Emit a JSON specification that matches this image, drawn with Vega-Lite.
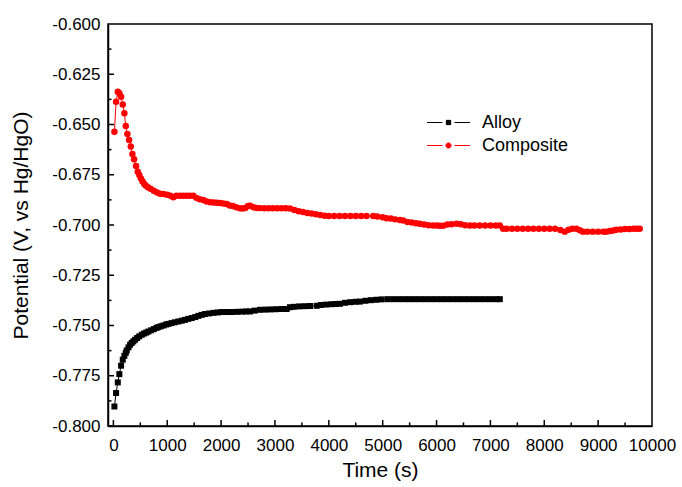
{
  "$schema": "https://vega.github.io/schema/vega-lite/v6.json",
  "width": 544,
  "height": 402,
  "autosize": "none",
  "padding": {"left": 108, "top": 24, "right": 30, "bottom": 61},
  "background": "white",
  "config": {
    "view": {"stroke": "black", "strokeWidth": 1.5},
    "font": "Liberation Sans",
    "axis": {"labelFont": "Liberation Sans", "titleFont": "Liberation Sans", "labelColor": "black", "titleColor": "black", "domainColor": "black", "grid": false, "domainWidth": 1.5, "titleFontWeight": "normal", "labelOverlap": false, "labelFlush": false}
  },
  "datasets": {
    "xt": [{"t":0,"k":"M"},{"t":500,"k":"m"},{"t":1000,"k":"M"},{"t":1500,"k":"m"},{"t":2000,"k":"M"},{"t":2500,"k":"m"},{"t":3000,"k":"M"},{"t":3500,"k":"m"},{"t":4000,"k":"M"},{"t":4500,"k":"m"},{"t":5000,"k":"M"},{"t":5500,"k":"m"},{"t":6000,"k":"M"},{"t":6500,"k":"m"},{"t":7000,"k":"M"},{"t":7500,"k":"m"},{"t":8000,"k":"M"},{"t":8500,"k":"m"},{"t":9000,"k":"M"},{"t":9500,"k":"m"}],
    "yt": [{"v":-0.8,"k":"M"},{"v":-0.7875,"k":"m"},{"v":-0.775,"k":"M"},{"v":-0.7625,"k":"m"},{"v":-0.75,"k":"M"},{"v":-0.7375,"k":"m"},{"v":-0.725,"k":"M"},{"v":-0.7125,"k":"m"},{"v":-0.7,"k":"M"},{"v":-0.6875,"k":"m"},{"v":-0.675,"k":"M"},{"v":-0.6625,"k":"m"},{"v":-0.65,"k":"M"},{"v":-0.6375,"k":"m"},{"v":-0.625,"k":"M"},{"v":-0.6125,"k":"m"}],
    "pts": [
    {"s":"Composite","t":19,"v":-0.6536},{"s":"Composite","t":50,"v":-0.6387},{"s":"Composite","t":82,"v":-0.6337},{"s":"Composite","t":111,"v":-0.6345},{"s":"Composite","t":143,"v":-0.6362},{"s":"Composite","t":174,"v":-0.6400},{"s":"Composite","t":204,"v":-0.6444},{"s":"Composite","t":230,"v":-0.6507},{"s":"Composite","t":260,"v":-0.6547},{"s":"Composite","t":291,"v":-0.6577},{"s":"Composite","t":323,"v":-0.6610},{"s":"Composite","t":353,"v":-0.6647},{"s":"Composite","t":384,"v":-0.6673},{"s":"Composite","t":421,"v":-0.6707},{"s":"Composite","t":453,"v":-0.6735},{"s":"Composite","t":482,"v":-0.6751},{"s":"Composite","t":510,"v":-0.6768},{"s":"Composite","t":540,"v":-0.6782},{"s":"Composite","t":570,"v":-0.6795},{"s":"Composite","t":600,"v":-0.6803},{"s":"Composite","t":640,"v":-0.6812},{"s":"Composite","t":690,"v":-0.6820},{"s":"Composite","t":750,"v":-0.6830},{"s":"Composite","t":810,"v":-0.6838},{"s":"Composite","t":870,"v":-0.6844},{"s":"Composite","t":930,"v":-0.6846},{"s":"Composite","t":1000,"v":-0.6850},{"s":"Composite","t":1060,"v":-0.6855},{"s":"Composite","t":1113,"v":-0.6862},{"s":"Composite","t":1170,"v":-0.6855},{"s":"Composite","t":1240,"v":-0.6854},{"s":"Composite","t":1300,"v":-0.6854},{"s":"Composite","t":1360,"v":-0.6854},{"s":"Composite","t":1420,"v":-0.6854},{"s":"Composite","t":1484,"v":-0.6855},{"s":"Composite","t":1540,"v":-0.6865},{"s":"Composite","t":1600,"v":-0.6872},{"s":"Composite","t":1670,"v":-0.6876},{"s":"Composite","t":1730,"v":-0.6883},{"s":"Composite","t":1800,"v":-0.6887},{"s":"Composite","t":1860,"v":-0.6888},{"s":"Composite","t":1920,"v":-0.6889},{"s":"Composite","t":1980,"v":-0.6890},{"s":"Composite","t":2040,"v":-0.6893},{"s":"Composite","t":2104,"v":-0.6896},{"s":"Composite","t":2160,"v":-0.6903},{"s":"Composite","t":2220,"v":-0.6906},{"s":"Composite","t":2280,"v":-0.6912},{"s":"Composite","t":2350,"v":-0.6917},{"s":"Composite","t":2400,"v":-0.6918},{"s":"Composite","t":2450,"v":-0.6915},{"s":"Composite","t":2500,"v":-0.6906},{"s":"Composite","t":2540,"v":-0.6904},{"s":"Composite","t":2600,"v":-0.6912},{"s":"Composite","t":2660,"v":-0.6915},{"s":"Composite","t":2720,"v":-0.6916},{"s":"Composite","t":2800,"v":-0.6917},{"s":"Composite","t":2880,"v":-0.6917},{"s":"Composite","t":2960,"v":-0.6917},{"s":"Composite","t":3040,"v":-0.6917},{"s":"Composite","t":3120,"v":-0.6917},{"s":"Composite","t":3200,"v":-0.6917},{"s":"Composite","t":3280,"v":-0.6918},{"s":"Composite","t":3360,"v":-0.6925},{"s":"Composite","t":3440,"v":-0.6932},{"s":"Composite","t":3520,"v":-0.6935},{"s":"Composite","t":3600,"v":-0.6940},{"s":"Composite","t":3680,"v":-0.6943},{"s":"Composite","t":3760,"v":-0.6947},{"s":"Composite","t":3840,"v":-0.6950},{"s":"Composite","t":3920,"v":-0.6954},{"s":"Composite","t":4000,"v":-0.6955},{"s":"Composite","t":4100,"v":-0.6955},{"s":"Composite","t":4200,"v":-0.6955},{"s":"Composite","t":4300,"v":-0.6955},{"s":"Composite","t":4400,"v":-0.6955},{"s":"Composite","t":4500,"v":-0.6955},{"s":"Composite","t":4600,"v":-0.6955},{"s":"Composite","t":4700,"v":-0.6955},{"s":"Composite","t":4824,"v":-0.6955},{"s":"Composite","t":4900,"v":-0.6958},{"s":"Composite","t":5000,"v":-0.6962},{"s":"Composite","t":5072,"v":-0.6966},{"s":"Composite","t":5150,"v":-0.6968},{"s":"Composite","t":5230,"v":-0.6972},{"s":"Composite","t":5319,"v":-0.6975},{"s":"Composite","t":5380,"v":-0.6978},{"s":"Composite","t":5460,"v":-0.6985},{"s":"Composite","t":5540,"v":-0.6988},{"s":"Composite","t":5620,"v":-0.6991},{"s":"Composite","t":5690,"v":-0.6994},{"s":"Composite","t":5770,"v":-0.6997},{"s":"Composite","t":5850,"v":-0.7001},{"s":"Composite","t":5930,"v":-0.7003},{"s":"Composite","t":6000,"v":-0.7003},{"s":"Composite","t":6060,"v":-0.7004},{"s":"Composite","t":6122,"v":-0.7004},{"s":"Composite","t":6200,"v":-0.6998},{"s":"Composite","t":6280,"v":-0.6996},{"s":"Composite","t":6371,"v":-0.6994},{"s":"Composite","t":6450,"v":-0.6996},{"s":"Composite","t":6530,"v":-0.7001},{"s":"Composite","t":6618,"v":-0.7003},{"s":"Composite","t":6700,"v":-0.7003},{"s":"Composite","t":6800,"v":-0.7003},{"s":"Composite","t":6900,"v":-0.7003},{"s":"Composite","t":7000,"v":-0.7003},{"s":"Composite","t":7100,"v":-0.7003},{"s":"Composite","t":7174,"v":-0.7003},{"s":"Composite","t":7236,"v":-0.7019},{"s":"Composite","t":7300,"v":-0.7019},{"s":"Composite","t":7400,"v":-0.7019},{"s":"Composite","t":7500,"v":-0.7019},{"s":"Composite","t":7600,"v":-0.7019},{"s":"Composite","t":7700,"v":-0.7019},{"s":"Composite","t":7800,"v":-0.7019},{"s":"Composite","t":7900,"v":-0.7019},{"s":"Composite","t":8000,"v":-0.7019},{"s":"Composite","t":8100,"v":-0.7019},{"s":"Composite","t":8200,"v":-0.7019},{"s":"Composite","t":8300,"v":-0.7025},{"s":"Composite","t":8380,"v":-0.7033},{"s":"Composite","t":8450,"v":-0.7024},{"s":"Composite","t":8520,"v":-0.7019},{"s":"Composite","t":8597,"v":-0.7019},{"s":"Composite","t":8660,"v":-0.7026},{"s":"Composite","t":8720,"v":-0.7033},{"s":"Composite","t":8800,"v":-0.7033},{"s":"Composite","t":8900,"v":-0.7033},{"s":"Composite","t":9000,"v":-0.7033},{"s":"Composite","t":9100,"v":-0.7033},{"s":"Composite","t":9154,"v":-0.7033},{"s":"Composite","t":9220,"v":-0.7030},{"s":"Composite","t":9280,"v":-0.7027},{"s":"Composite","t":9340,"v":-0.7024},{"s":"Composite","t":9420,"v":-0.7022},{"s":"Composite","t":9500,"v":-0.7020},{"s":"Composite","t":9580,"v":-0.7020},{"s":"Composite","t":9660,"v":-0.7019},{"s":"Composite","t":9720,"v":-0.7019},{"s":"Composite","t":9772,"v":-0.7019},
    {"s":"Alloy","t":19,"v":-0.7903},{"s":"Alloy","t":50,"v":-0.7836},{"s":"Alloy","t":82,"v":-0.7783},{"s":"Alloy","t":111,"v":-0.7742},{"s":"Alloy","t":143,"v":-0.7700},{"s":"Alloy","t":174,"v":-0.7670},{"s":"Alloy","t":204,"v":-0.7651},{"s":"Alloy","t":230,"v":-0.7636},{"s":"Alloy","t":248,"v":-0.7624},{"s":"Alloy","t":280,"v":-0.7609},{"s":"Alloy","t":310,"v":-0.7596},{"s":"Alloy","t":340,"v":-0.7587},{"s":"Alloy","t":370,"v":-0.7579},{"s":"Alloy","t":403,"v":-0.7571},{"s":"Alloy","t":440,"v":-0.7562},{"s":"Alloy","t":480,"v":-0.7554},{"s":"Alloy","t":527,"v":-0.7546},{"s":"Alloy","t":570,"v":-0.7540},{"s":"Alloy","t":610,"v":-0.7535},{"s":"Alloy","t":650,"v":-0.7530},{"s":"Alloy","t":700,"v":-0.7524},{"s":"Alloy","t":750,"v":-0.7518},{"s":"Alloy","t":800,"v":-0.7512},{"s":"Alloy","t":835,"v":-0.7508},{"s":"Alloy","t":880,"v":-0.7504},{"s":"Alloy","t":930,"v":-0.7500},{"s":"Alloy","t":980,"v":-0.7495},{"s":"Alloy","t":1020,"v":-0.7492},{"s":"Alloy","t":1080,"v":-0.7488},{"s":"Alloy","t":1140,"v":-0.7484},{"s":"Alloy","t":1206,"v":-0.7480},{"s":"Alloy","t":1270,"v":-0.7476},{"s":"Alloy","t":1330,"v":-0.7472},{"s":"Alloy","t":1390,"v":-0.7467},{"s":"Alloy","t":1455,"v":-0.7463},{"s":"Alloy","t":1520,"v":-0.7458},{"s":"Alloy","t":1580,"v":-0.7452},{"s":"Alloy","t":1640,"v":-0.7447},{"s":"Alloy","t":1701,"v":-0.7443},{"s":"Alloy","t":1780,"v":-0.7440},{"s":"Alloy","t":1860,"v":-0.7437},{"s":"Alloy","t":1940,"v":-0.7435},{"s":"Alloy","t":2011,"v":-0.7433},{"s":"Alloy","t":2100,"v":-0.7433},{"s":"Alloy","t":2200,"v":-0.7433},{"s":"Alloy","t":2300,"v":-0.7432},{"s":"Alloy","t":2400,"v":-0.7431},{"s":"Alloy","t":2470,"v":-0.7430},{"s":"Alloy","t":2536,"v":-0.7430},{"s":"Alloy","t":2622,"v":-0.7426},{"s":"Alloy","t":2722,"v":-0.7422},{"s":"Alloy","t":2820,"v":-0.7421},{"s":"Alloy","t":2920,"v":-0.7420},{"s":"Alloy","t":3020,"v":-0.7419},{"s":"Alloy","t":3120,"v":-0.7418},{"s":"Alloy","t":3217,"v":-0.7418},{"s":"Alloy","t":3278,"v":-0.7409},{"s":"Alloy","t":3350,"v":-0.7407},{"s":"Alloy","t":3450,"v":-0.7405},{"s":"Alloy","t":3550,"v":-0.7404},{"s":"Alloy","t":3650,"v":-0.7403},{"s":"Alloy","t":3774,"v":-0.7402},{"s":"Alloy","t":3850,"v":-0.7398},{"s":"Alloy","t":3950,"v":-0.7396},{"s":"Alloy","t":4050,"v":-0.7394},{"s":"Alloy","t":4130,"v":-0.7393},{"s":"Alloy","t":4206,"v":-0.7392},{"s":"Alloy","t":4300,"v":-0.7387},{"s":"Alloy","t":4400,"v":-0.7384},{"s":"Alloy","t":4500,"v":-0.7382},{"s":"Alloy","t":4577,"v":-0.7381},{"s":"Alloy","t":4680,"v":-0.7377},{"s":"Alloy","t":4780,"v":-0.7374},{"s":"Alloy","t":4880,"v":-0.7372},{"s":"Alloy","t":4980,"v":-0.7370},{"s":"Alloy","t":5090,"v":-0.7369},{"s":"Alloy","t":5195,"v":-0.7369},{"s":"Alloy","t":5300,"v":-0.7369},{"s":"Alloy","t":5400,"v":-0.7369},{"s":"Alloy","t":5500,"v":-0.7369},{"s":"Alloy","t":5600,"v":-0.7369},{"s":"Alloy","t":5700,"v":-0.7369},{"s":"Alloy","t":5800,"v":-0.7369},{"s":"Alloy","t":5900,"v":-0.7369},{"s":"Alloy","t":6000,"v":-0.7369},{"s":"Alloy","t":6100,"v":-0.7369},{"s":"Alloy","t":6200,"v":-0.7369},{"s":"Alloy","t":6300,"v":-0.7369},{"s":"Alloy","t":6400,"v":-0.7369},{"s":"Alloy","t":6500,"v":-0.7369},{"s":"Alloy","t":6600,"v":-0.7369},{"s":"Alloy","t":6700,"v":-0.7369},{"s":"Alloy","t":6800,"v":-0.7369},{"s":"Alloy","t":6900,"v":-0.7369},{"s":"Alloy","t":7000,"v":-0.7369},{"s":"Alloy","t":7100,"v":-0.7369},{"s":"Alloy","t":7174,"v":-0.7369}
  ]},
  "layer": [
    {"data": {"name": "pts"},
     "mark": {"type": "line", "strokeWidth": 1},
     "encoding": {
       "x": {"field": "t", "type": "quantitative",
         "scale": {"domain": [-100, 10000], "nice": false, "zero": false},
         "axis": {"orient": "bottom", "title": "Time (s)", "titleFontSize": 21, "titlePadding": 6, "labelFontSize": 17, "format": "d",
           "values": [0,1000,2000,3000,4000,5000,6000,7000,8000,9000,10000],
           "labelPadding": 11, "ticks": false}},
       "y": {"field": "v", "type": "quantitative",
         "scale": {"domain": [-0.8, -0.6], "nice": false, "zero": false},
         "axis": {"orient": "left", "title": "Potential (V, vs Hg/HgO)", "titleFontSize": 21, "titlePadding": 20, "labelFontSize": 17,
           "values": [-0.8,-0.775,-0.75,-0.725,-0.7,-0.675,-0.65,-0.625,-0.6],
           "labelExpr": "'-' + format(abs(datum.value), '.3f')",
           "labelPadding": 8, "ticks": false}},
       "color": {"field": "s", "type": "nominal",
         "scale": {"domain": ["Alloy", "Composite"], "range": ["black", "#ff0000"]},
         "legend": {"title": null, "orient": "none", "legendX": 318, "legendY": 87, "padding": 0,
           "labelFont": "Liberation Sans", "labelFontSize": 18, "labelColor": "black", "labelOffset": 11,
           "symbolSize": 1850, "clipHeight": 23, "rowPadding": 0, "symbolStrokeWidth": 1,
           "encode": {"symbols": {"update": {
             "shape": {"signal": "datum.value === 'Alloy' ? 'M-1,0H-0.28M0.28,0H1M-0.1,-0.1H0.1V0.1H-0.1Z' : 'M-1,0H-0.28M0.28,0H1M-0.12,0A0.12,0.12 0 1,1 0.12,0A0.12,0.12 0 1,1 -0.12,0Z'"},
             "fill": {"signal": "datum.value === 'Alloy' ? 'black' : '#ff0000'"},
             "stroke": {"signal": "datum.value === 'Alloy' ? '#333333' : '#ff0000'"},
             "strokeWidth": {"value": 1}, "opacity": {"value": 1}, "fillOpacity": {"value": 1}}}}}}}},
    {"data": {"name": "pts"},
     "transform": [{"filter": "datum.s === 'Alloy'"}],
     "mark": {"type": "point", "shape": "square", "filled": true, "opacity": 1, "strokeWidth": 0, "size": 36, "color": "black"},
     "encoding": {
       "x": {"field": "t", "type": "quantitative", "scale": {"domain": [-100, 10000], "nice": false, "zero": false}},
       "y": {"field": "v", "type": "quantitative", "scale": {"domain": [-0.8, -0.6], "nice": false, "zero": false}}}},
    {"data": {"name": "pts"},
     "transform": [{"filter": "datum.s === 'Composite'"}],
     "mark": {"type": "point", "shape": "circle", "filled": true, "opacity": 1, "strokeWidth": 0, "size": 42, "color": "#ff0000"},
     "encoding": {
       "x": {"field": "t", "type": "quantitative", "scale": {"domain": [-100, 10000], "nice": false, "zero": false}},
       "y": {"field": "v", "type": "quantitative", "scale": {"domain": [-0.8, -0.6], "nice": false, "zero": false}}}},
    {"data": {"name": "xt"},
     "transform": [{"filter": "datum.k === 'M'"}],
     "mark": {"type": "rule", "color": "black", "strokeWidth": 1.5, "opacity": 1},
     "encoding": {
       "x": {"field": "t", "type": "quantitative", "scale": {"domain": [-100, 10000], "nice": false, "zero": false}},
       "y": {"datum": -0.8, "type": "quantitative", "scale": {"domain": [-0.8, -0.6], "nice": false, "zero": false}},
       "y2": {"datum": -0.797}}},
    {"data": {"name": "xt"},
     "transform": [{"filter": "datum.k === 'm'"}],
     "mark": {"type": "rule", "color": "black", "strokeWidth": 1.5, "opacity": 1},
     "encoding": {
       "x": {"field": "t", "type": "quantitative", "scale": {"domain": [-100, 10000], "nice": false, "zero": false}},
       "y": {"datum": -0.8, "type": "quantitative", "scale": {"domain": [-0.8, -0.6], "nice": false, "zero": false}},
       "y2": {"datum": -0.7982}}},
    {"data": {"name": "yt"},
     "transform": [{"filter": "datum.k === 'M'"}],
     "mark": {"type": "rule", "color": "black", "strokeWidth": 1.5, "opacity": 1},
     "encoding": {
       "y": {"field": "v", "type": "quantitative", "scale": {"domain": [-0.8, -0.6], "nice": false, "zero": false}},
       "x": {"datum": -100, "type": "quantitative", "scale": {"domain": [-100, 10000], "nice": false, "zero": false}},
       "x2": {"datum": 12}}},
    {"data": {"name": "yt"},
     "transform": [{"filter": "datum.k === 'm'"}],
     "mark": {"type": "rule", "color": "black", "strokeWidth": 1.5, "opacity": 1},
     "encoding": {
       "y": {"field": "v", "type": "quantitative", "scale": {"domain": [-0.8, -0.6], "nice": false, "zero": false}},
       "x": {"datum": -100, "type": "quantitative", "scale": {"domain": [-100, 10000], "nice": false, "zero": false}},
       "x2": {"datum": -35}}}
  ]
}
